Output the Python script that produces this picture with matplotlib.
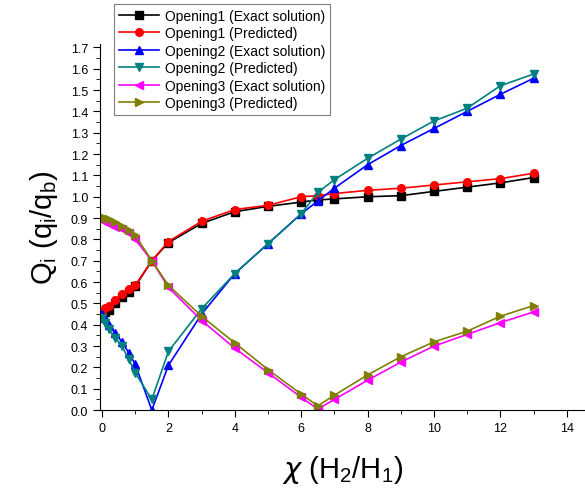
import numpy as np
import matplotlib.pyplot as plt
from matplotlib.ticker import MultipleLocator

plt.rcParams['font.family'] = ['Liberation Sans', 'DejaVu Sans']

x = [0, 0.1, 0.2, 0.4, 0.6, 0.8, 1.0, 1.5, 2, 3, 4, 5, 6, 6.5, 7, 8, 9, 10, 11, 12, 13]

op1_exact = [0.45, 0.46, 0.47, 0.50, 0.53, 0.555, 0.58, 0.70, 0.785, 0.875, 0.93, 0.955,
             0.975, 0.985, 0.99, 1.00, 1.005, 1.025, 1.045, 1.065, 1.09]
op1_pred = [0.46, 0.48, 0.49, 0.515, 0.545, 0.57, 0.585, 0.70, 0.79, 0.885, 0.94, 0.96,
            1.00, 1.005, 1.015, 1.03, 1.04, 1.055, 1.07, 1.085, 1.11]
op2_exact = [0.45, 0.43, 0.40, 0.36, 0.32, 0.27, 0.215, 0.0, 0.21, 0.45, 0.64, 0.78,
             0.92, 0.98, 1.04, 1.15, 1.24, 1.32, 1.40, 1.48, 1.555]
op2_pred = [0.43, 0.41, 0.38, 0.34, 0.30, 0.24, 0.175, 0.05, 0.275, 0.475, 0.64, 0.78,
            0.92, 1.02, 1.08, 1.18, 1.27, 1.355, 1.415, 1.52, 1.575]
op3_exact = [0.89, 0.88, 0.87, 0.86, 0.85, 0.83, 0.80, 0.70, 0.575, 0.42, 0.29, 0.175,
             0.06, 0.005, 0.05, 0.14, 0.225, 0.30, 0.355, 0.41, 0.46]
op3_pred = [0.905, 0.90, 0.895, 0.88, 0.865, 0.845, 0.82, 0.70, 0.585, 0.44, 0.315, 0.19,
            0.075, 0.02, 0.07, 0.165, 0.25, 0.32, 0.37, 0.44, 0.49]

series = [
    (op1_exact, 'black', 's', 'Opening1 (Exact solution)'),
    (op1_pred, 'red', 'o', 'Opening1 (Predicted)'),
    (op2_exact, 'blue', '^', 'Opening2 (Exact solution)'),
    (op2_pred, '#008080', 'v', 'Opening2 (Predicted)'),
    (op3_exact, 'magenta', '<', 'Opening3 (Exact solution)'),
    (op3_pred, '#808000', '>', 'Opening3 (Predicted)'),
]

fig = plt.figure(figsize=(5.85, 5.02), dpi=100)
ax = fig.add_axes([0.171, 0.181, 0.829, 0.729])

for ys, c, m, lab in series:
    ax.plot(x, ys, color=c, marker=m, markersize=5.5, linewidth=1.2, label=lab)

ax.set_xlim(-0.06, 14.55)
ax.set_ylim(0, 1.715)
ax.xaxis.set_major_locator(MultipleLocator(2))
ax.xaxis.set_minor_locator(MultipleLocator(1))
ax.yaxis.set_major_locator(MultipleLocator(0.1))
ax.yaxis.set_minor_locator(MultipleLocator(0.05))
ax.yaxis.set_major_formatter(plt.FuncFormatter(lambda v, p: '%.1f' % v))
ax.tick_params(which='both', direction='out', labelsize=9)
ax.tick_params(which='major', length=5)
ax.tick_params(which='minor', length=3)
ax.spines['top'].set_visible(False)
ax.spines['right'].set_visible(False)

ax.set_xlabel(r'$\chi$ (H$_\mathregular{2}$/H$_\mathregular{1}$)', fontsize=21, labelpad=14)
ax.set_ylabel(r'Q$_\mathregular{i}$ (q$_\mathregular{i}$/q$_\mathregular{b}$)', fontsize=21, labelpad=8)

leg = ax.legend(loc='upper left', bbox_to_anchor=(0.195, 0.99), bbox_transform=fig.transFigure,
                borderaxespad=0, fontsize=10, fancybox=False, edgecolor='gray', framealpha=1,
                handlelength=2.9, handletextpad=0.4, labelspacing=0.25, borderpad=0.35)
leg.get_frame().set_linewidth(0.8)

fig.savefig('out.png', dpi=100)
